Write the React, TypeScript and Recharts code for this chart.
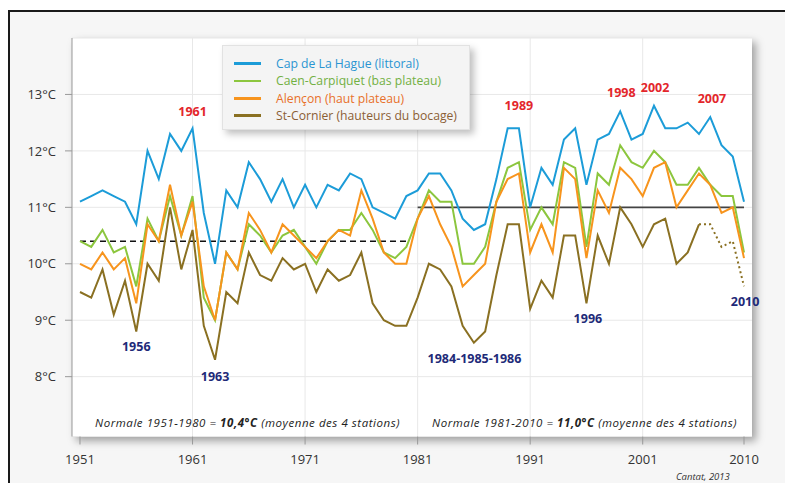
import React from 'react'
import {
  LineChart,
  Line,
  XAxis,
  YAxis,
  CartesianGrid,
  ReferenceLine,
  ReferenceDot,
} from 'recharts'

// annual mean temperature, 1951-2010
const years = Array.from({ length: 60 }, (_, i) => 1951 + i)

const hague = [
  11.1, 11.2, 11.3, 11.2, 11.1, 10.7, 12.0, 11.5, 12.3, 12.0,
  12.4, 10.9, 10.0, 11.3, 11.0, 11.8, 11.5, 11.1, 11.5, 11.0,
  11.4, 11.0, 11.4, 11.3, 11.6, 11.5, 11.0, 10.9, 10.8, 11.2,
  11.3, 11.6, 11.6, 11.3, 10.8, 10.6, 10.7, 11.5, 12.4, 12.4,
  11.0, 11.7, 11.4, 12.2, 12.4, 11.4, 12.2, 12.3, 12.7, 12.2,
  12.3, 12.8, 12.4, 12.4, 12.5, 12.3, 12.6, 12.1, 11.9, 11.1,
]

const caen = [
  10.4, 10.3, 10.6, 10.2, 10.3, 9.6, 10.8, 10.4, 11.2, 10.5,
  11.2, 9.4, 9.0, 10.2, 9.9, 10.7, 10.5, 10.2, 10.5, 10.6,
  10.3, 10.0, 10.4, 10.6, 10.6, 10.9, 10.6, 10.2, 10.1, 10.3,
  10.8, 11.3, 11.1, 11.1, 10.0, 10.0, 10.3, 11.1, 11.7, 11.8,
  10.6, 11.0, 10.7, 11.8, 11.7, 10.3, 11.6, 11.4, 12.1, 11.8,
  11.7, 12.0, 11.8, 11.4, 11.4, 11.7, 11.4, 11.2, 11.2, 10.2,
]

const alencon = [
  10.0, 9.9, 10.2, 9.9, 10.1, 9.3, 10.7, 10.4, 11.4, 10.5,
  11.1, 9.6, 9.0, 10.2, 9.9, 10.9, 10.6, 10.2, 10.7, 10.5,
  10.3, 10.1, 10.4, 10.6, 10.5, 11.3, 10.8, 10.2, 10.0, 10.0,
  10.8, 11.2, 10.7, 10.3, 9.6, 9.8, 10.0, 11.1, 11.5, 11.6,
  10.2, 10.7, 10.2, 11.7, 11.5, 10.1, 11.3, 10.9, 11.7, 11.5,
  11.2, 11.7, 11.8, 11.0, 11.3, 11.6, 11.4, 10.9, 11.0, 10.1,
]

const cornier = [
  9.5, 9.4, 9.9, 9.1, 9.7, 8.8, 10.0, 9.7, 11.0, 9.9,
  10.6, 8.9, 8.3, 9.5, 9.3, 10.2, 9.8, 9.7, 10.1, 9.9,
  10.0, 9.5, 9.9, 9.7, 9.8, 10.2, 9.3, 9.0, 8.9, 8.9,
  9.4, 10.0, 9.9, 9.6, 8.9, 8.6, 8.8, 9.8, 10.7, 10.7,
  9.2, 9.7, 9.4, 10.5, 10.5, 9.3, 10.5, 10.0, 11.0, 10.7,
  10.3, 10.7, 10.8, 10.0, 10.2, 10.7, 10.7, 10.3, 10.4, 9.6,
]
// St-Cornier is dotted from this year on
const cornierDottedFrom = 2006

const xTicks = [1951, 1961, 1971, 1981, 1991, 2001, 2010]
const gridYears = [1961, 1971, 1981, 1991, 2001]
const yTicks = [8, 9, 10, 11, 12, 13]

// normales: [from, to, value]
const normales: [number, number, number][] = [
  [1951, 1980, 10.4],
  [1981, 2010, 11.0],
]

const warmLabels = [
  { text: '1961', x: 1961, y: 12.7 },
  { text: '1989', x: 1990, y: 12.8 },
  { text: '1998', x: 1999.1, y: 13.03 },
  { text: '2002', x: 2002.1, y: 13.12 },
  { text: '2007', x: 2007.15, y: 12.93 },
]
const coldLabels = [
  { text: '1956', x: 1956, y: 8.53 },
  { text: '1963', x: 1963, y: 8.0 },
  { text: '1984-1985-1986', x: 1986.05, y: 8.33 },
  { text: '1996', x: 1996.13, y: 9.03 },
  { text: '2010', x: 2010.1, y: 9.33 },
]

const series = [
  { key: 'hague', name: 'Cap de La Hague (littoral)', color: '#1c9cd8', text: '#2a95d2' },
  { key: 'caen', name: 'Caen-Carpiquet (bas plateau)', color: '#8cc63e', text: '#72b043' },
  { key: 'alencon', name: 'Alençon (haut plateau)', color: '#f7941d', text: '#e8702a' },
  { key: 'cornier', name: 'St-Cornier (hauteurs du bocage)', color: '#8a7022', text: '#8b5e34' },
]

const data = years.map((year, i) => ({
  year,
  hague: hague[i],
  caen: caen[i],
  alencon: alencon[i],
  cornier: year <= cornierDottedFrom ? cornier[i] : null,
  cornierDot: year >= cornierDottedFrom ? cornier[i] : null,
}))

const font = '"Open Sans", sans-serif'

function AnnotationLabel({ viewBox, value, fill }: any) {
  const cx = viewBox.x + (viewBox.width || 0) / 2
  const cy = viewBox.y + (viewBox.height || 0) / 2
  return (
    <text x={cx} y={cy} textAnchor="middle" dominantBaseline="central"
      fill={fill} fontSize={12.5} fontWeight={700} fontFamily={font}>
      {value}
    </text>
  )
}

const normaleStyle: React.CSSProperties = {
  position: 'absolute', top: 415, fontSize: 11.5, fontStyle: 'italic',
  color: '#222', whiteSpace: 'nowrap', letterSpacing: 0.55,
}

export default function App() {
  return (
    <div style={{ position: 'absolute', left: 0, top: 0, width: 785, height: 483, overflow: 'hidden', background: '#fff', fontFamily: font }}>
      {/* outer frame */}
      <div style={{ position: 'absolute', left: 8, top: 10, width: 800, height: 500, borderLeft: '2px solid #1a1a1a', borderTop: '2px solid #1a1a1a', background: '#f6f6f6' }} />
      {/* white plot panel */}
      <div style={{ position: 'absolute', left: 72, top: 38, width: 680, height: 399, background: '#fff', boxShadow: '4px 4px 8px rgba(0,0,0,0.35)' }} />

      <div style={{ position: 'absolute', left: 0, top: 0 }}>
        <LineChart width={785} height={483} data={data} margin={{ top: 38, right: 33, left: 0, bottom: 16.5 }}>
          <CartesianGrid vertical={false} stroke="#e8e8e8" />
          {gridYears.map(y => (
            <ReferenceLine key={y} x={y} stroke="#e8e8e8" />
          ))}
          <XAxis
            type="number"
            dataKey="year"
            domain={[1950.29, 2010.71]}
            ticks={xTicks}
            allowDataOverflow
            height={30}
            axisLine={false}
            tickSize={8}
            tickMargin={10}
            tickLine={{ stroke: '#999' }}
            tick={{ fontSize: 13, fill: '#333', fontFamily: font }}
            interval={0}
          />
          <YAxis
            type="number"
            domain={[6.94, 14]}
            ticks={yTicks}
            allowDataOverflow
            width={72}
            axisLine={{ stroke: '#999' }}
            tickSize={7}
            tickMargin={9}
            tickLine={{ stroke: '#999' }}
            tick={{ fontSize: 13, fill: '#333', fontFamily: font }}
            tickFormatter={v => `${v}°C`}
          />
          <ReferenceLine
            segment={[{ x: normales[0][0], y: normales[0][2] }, { x: normales[0][1], y: normales[0][2] }]}
            stroke="#111" strokeWidth={1.6} strokeDasharray="6 4"
          />
          <ReferenceLine
            segment={[{ x: normales[1][0], y: normales[1][2] }, { x: normales[1][1], y: normales[1][2] }]}
            stroke="#444" strokeWidth={1.6}
          />
          <Line dataKey="cornier" stroke="#8a7022" strokeWidth={2} dot={false} activeDot={false} isAnimationActive={false} />
          <Line dataKey="cornierDot" stroke="#8a7022" strokeWidth={2} strokeDasharray="2 3" dot={false} activeDot={false} isAnimationActive={false} />
          <Line dataKey="caen" stroke="#8cc63e" strokeWidth={2} dot={false} activeDot={false} isAnimationActive={false} />
          <Line dataKey="alencon" stroke="#f7941d" strokeWidth={2} dot={false} activeDot={false} isAnimationActive={false} />
          <Line dataKey="hague" stroke="#1c9cd8" strokeWidth={2} dot={false} activeDot={false} isAnimationActive={false} />
          {warmLabels.map(l => (
            <ReferenceDot key={l.text} x={l.x} y={l.y} r={0} stroke="none"
              label={<AnnotationLabel value={l.text} fill="#e3262b" />} />
          ))}
          {coldLabels.map(l => (
            <ReferenceDot key={l.text} x={l.x} y={l.y} r={0} stroke="none"
              label={<AnnotationLabel value={l.text} fill="#1e2a78" />} />
          ))}
        </LineChart>
      </div>

      {/* legend */}
      <div style={{ position: 'absolute', left: 222, top: 45, width: 248, height: 85, background: '#f4f4f4', border: '1px solid #e2e2e2', boxShadow: '4px 4px 7px rgba(0,0,0,0.25)', boxSizing: 'border-box' }}>
        {series.map((s, i) => (
          <div key={s.key} style={{ position: 'absolute', left: 11, top: 9 + i * 17.4, height: 17, display: 'flex', alignItems: 'center', whiteSpace: 'nowrap' }}>
            <div style={{ width: 27, height: 2.5, background: s.color, marginRight: 15 }} />
            <span style={{ fontSize: 12.2, color: s.text }}>{s.name}</span>
          </div>
        ))}
      </div>

      {/* normales */}
      <div style={{ ...normaleStyle, left: 95 }}>
        Normale {normales[0][0]}-{normales[0][1]} = <b>10,4°C</b> (moyenne des 4 stations)
      </div>
      <div style={{ ...normaleStyle, left: 432 }}>
        Normale {normales[1][0]}-{normales[1][1]} = <b>11,0°C</b> (moyenne des 4 stations)
      </div>
      <div style={{ position: 'absolute', left: 676, top: 470, fontSize: 9.5, fontStyle: 'italic', color: '#333', whiteSpace: 'nowrap' }}>
        Cantat, 2013
      </div>
    </div>
  )
}
